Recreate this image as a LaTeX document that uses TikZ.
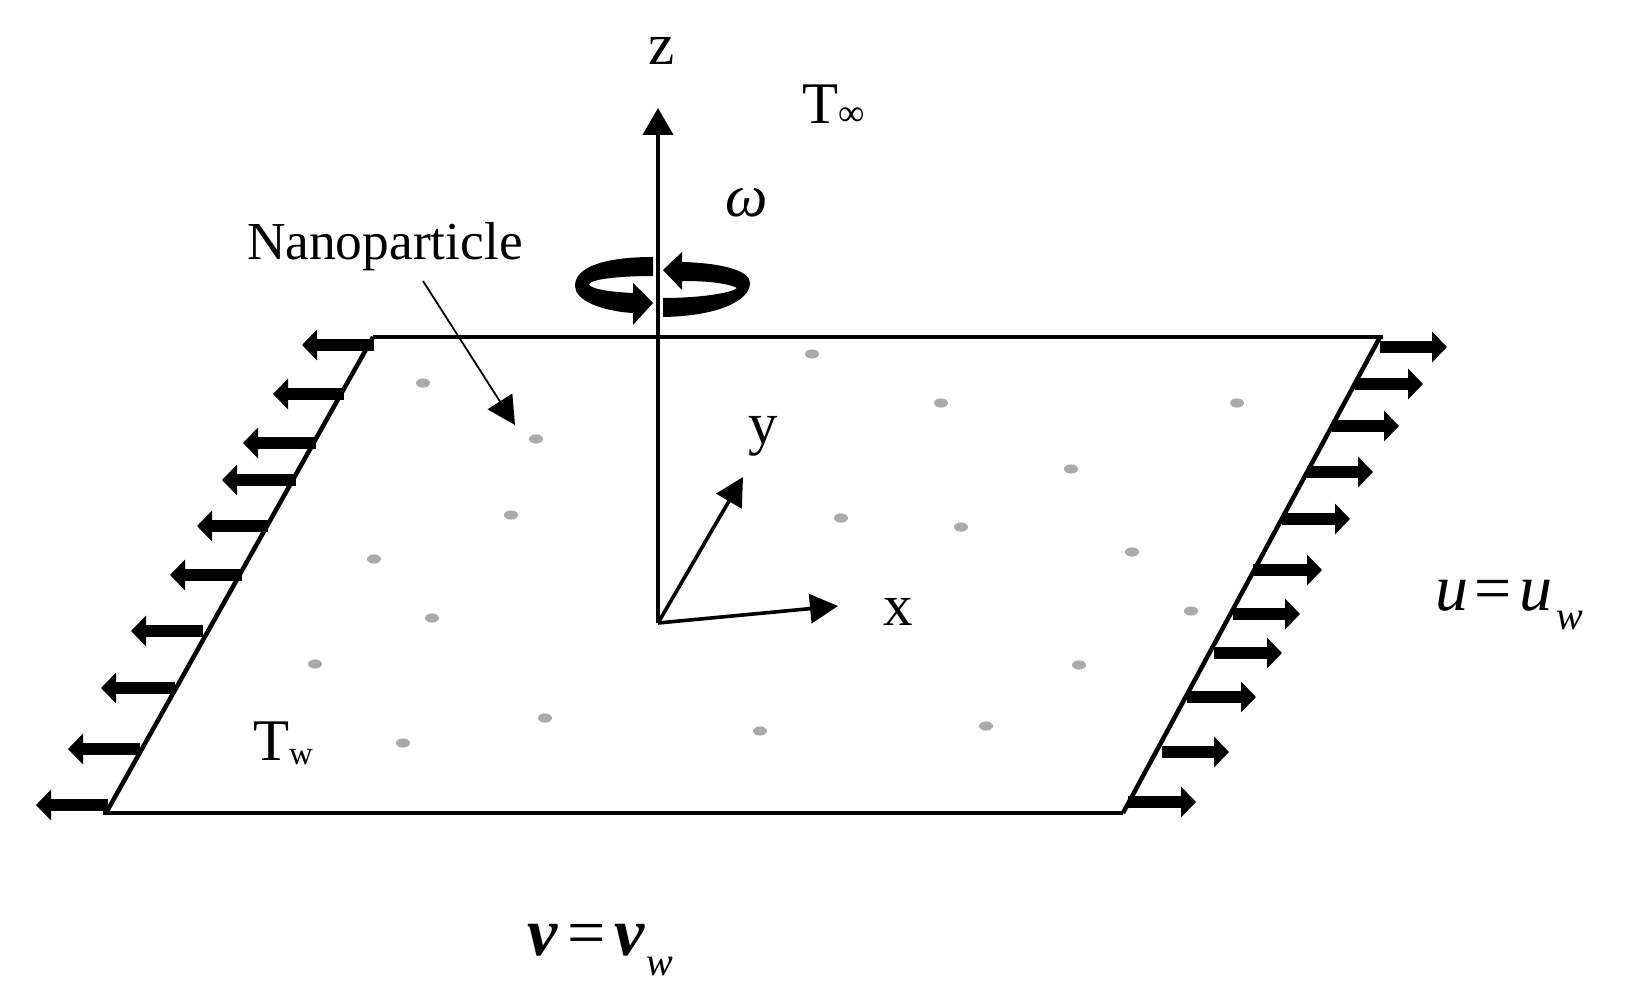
\documentclass[tikz,border=0pt]{standalone}
\usepackage{fontspec}
\setmainfont{Liberation Serif}
\usetikzlibrary{arrows.meta}
\definecolor{dotgray}{RGB}{170,170,170}
\newcommand{\fsz}[1]{\fontsize{#1}{#1}\selectfont}
\tikzset{
  plate/.style={line width=2.25pt},
  axisz/.style={line width=2.25pt,-{Triangle[length=13.5pt,width=15pt]}},
  axisxy/.style={line width=1.8pt,-{Triangle[length=14pt,width=14.5pt]}},
  flow/.style={line width=6.25pt,-{Triangle[length=7.5pt,width=15pt]}},
  pointer/.style={line width=0.9pt,-{Triangle[length=14pt,width=14.5pt]}},
  lbl/.style={inner sep=0pt,outer sep=0pt,anchor=base west},
  particle/.style={fill=dotgray},
}
\begin{document}
\begin{tikzpicture}[x=0.5pt,y=-0.5pt]
\useasboundingbox (0,0) rectangle (1642,989);
% plate
\coordinate (tl) at (373,337);
\coordinate (tlx) at (1383,337);
\coordinate (tr) at (1380,337);
\coordinate (bl) at (106,813);
\coordinate (blx) at (103,813);
\coordinate (br) at (1123,813);
\draw[plate] (tl) -- (tlx);
\draw[plate] (blx) -- (br);
\draw[plate] (tl) -- (bl);
\draw[plate] (tr) -- (br);
% particles
\foreach \x/\y in {423/383,536/439,511/515,374/559,432/618,812/354,941/403,841/518,961/527,
  1071/469,1237/403,1132/552,1191/611,1079/665,986/726,315/664,403/743,545/718,760/731}
  \fill[particle] (\x,\y) ellipse (7 and 4.6);
% flow arrows, right edge
\foreach \a/\b/\y [count=\i] in {1380/1447/347,1355/1423/384,1332/1399/426,1307/1373/472,1282/1350/519,
  1253/1322/570,1233/1300/614,1214/1282/653,1187/1256/697,1162/1229/752,1128/1196/802}{
  \coordinate (ra\i) at (\a,\y);
  \coordinate (rb\i) at (\b,\y);
  \draw[flow] (ra\i) -- (rb\i);
}
% flow arrows, left edge
\foreach \a/\b/\y [count=\i] in {374/302/345,344/273/394,316/243/443,296/222/480,268/197/526,
  242/170/575,203/131/631,175/101/688,140/68/749,108/36/805}{
  \coordinate (la\i) at (\a,\y);
  \coordinate (lb\i) at (\b,\y);
  \draw[flow] (la\i) -- (lb\i);
}
% axes
\coordinate (o) at (658,623);
\coordinate (zt) at (658,108);
\coordinate (yt) at (743,477);
\coordinate (xt) at (838,606);
\draw[axisz] (o) -- (zt);
\draw[axisxy] (o) -- (yt);
\draw[axisxy] (o) -- (xt);
% rotation symbol
\fill (653,257) .. controls (610,257) and (575,265) .. (575,286)
  .. controls (575,300) and (600,311) .. (633,313) -- (633,325) -- (653,303) -- (633,283) -- (633,293)
  .. controls (610,292) and (590,289) .. (589,284)
  .. controls (592,279) and (620,276) .. (653,276) -- cycle;
\fill (663,270) -- (682,252) -- (682,262)
  .. controls (720,263) and (750,270) .. (750,283)
  .. controls (750,300) and (720,316) .. (663,317) -- (663,298)
  .. controls (700,298) and (732,293) .. (737,288)
  .. controls (725,282) and (700,281) .. (682,281) -- (682,290) -- cycle;
% labels
\node[lbl] (zl) at (648,65) {\fsz{29.5}z};
\node[lbl] (tinf) at (802,124) {\fsz{29.5}T\raisebox{-1pt}{\fsz{18.5}∞}};
\node[lbl] (om) at (725,217) {\fsz{30}\textit{ω}};
\node[lbl] (yl) at (748,443) {\fsz{29.5}y};
\node[lbl] (xl) at (883,625) {\fsz{29.5}x};
\node[lbl] (nano) at (247,260) {\fsz{26.7}Nanoparticle};
\node[lbl] (tw) at (253,760) {\fsz{29.5}T\raisebox{-2pt}{\fsz{16.5}w}};
\node[lbl] (uu) at (1435,610) {\fsz{33}\textit{u}\hspace{3pt}=\hspace{4pt}\textit{u}\raisebox{-9.5pt}{\fsz{20}\hspace{2pt}\textit{w}}};
\node[lbl] (vv) at (527,955) {\fsz{34}\textbf{\textit{v}}\hspace{5pt}=\hspace{4pt}\textbf{\textit{v}}\raisebox{-10pt}{\fsz{20}\hspace{1pt}\textit{w}}};
% pointer
\coordinate (pa) at (423,281);
\coordinate (pb) at (515,425);
\draw[pointer] (pa) -- (pb);
\end{tikzpicture}
\end{document}
